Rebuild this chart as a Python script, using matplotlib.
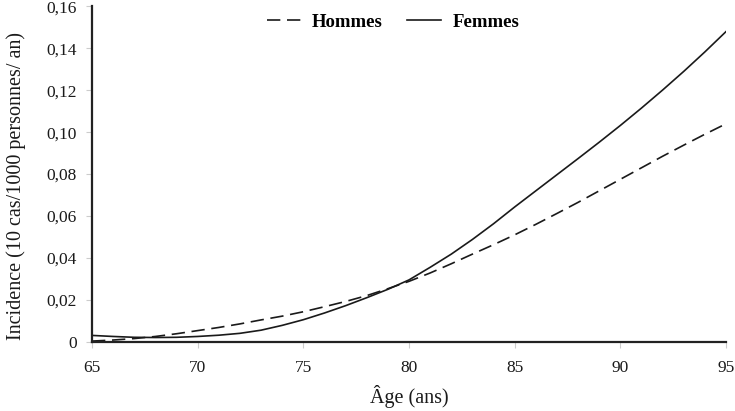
import numpy as np
import matplotlib.pyplot as plt
from matplotlib.ticker import FuncFormatter

# Values (one per year of age)
ages = list(range(65, 96))
hommes = [0.0003, 0.0008, 0.0015, 0.0025, 0.0038, 0.0053, 0.0068, 0.0085,
          0.0104, 0.0122, 0.0143, 0.0167, 0.0192, 0.0220, 0.0253, 0.0288,
          0.0328, 0.0372, 0.0418, 0.0463, 0.0510, 0.0560, 0.0612, 0.0665,
          0.0720, 0.0775, 0.0830, 0.0885, 0.0938, 0.0990, 0.1040]
femmes = [0.0030, 0.0025, 0.0021, 0.0020, 0.0021, 0.0025, 0.0031, 0.0040,
          0.0055, 0.0078, 0.0105, 0.0137, 0.0172, 0.0210, 0.0250, 0.0295,
          0.0355, 0.0418, 0.0488, 0.0563, 0.0643, 0.0720, 0.0797, 0.0874,
          0.0952, 0.1032, 0.1115, 0.1201, 0.1290, 0.1383, 0.1480]

x_ticks = [65, 70, 75, 80, 85, 90, 95]
y_ticks = [0, 0.02, 0.04, 0.06, 0.08, 0.10, 0.12, 0.14, 0.16]

plt.rcParams['font.family'] = ['Liberation Serif', 'DejaVu Serif']

fig = plt.figure(figsize=(7.35, 4.11), dpi=100)
ax = fig.add_axes([0.1252, 0.1686, 0.8626, 0.8158])

ax.plot(ages, hommes, color='#1a1a1a', lw=1.2, dashes=(8, 4), label='Hommes')
ax.plot(ages, femmes, color='#1a1a1a', lw=1.2, label='Femmes')

ax.set_xlim(65, 95)
ax.set_ylim(0, 0.16)
ax.set_xticks(x_ticks)
ax.set_yticks(y_ticks)

def comma_fmt(v, pos):
    if abs(v) < 1e-9:
        return '0'
    return f'{v:.2f}'.replace('.', ',')

ax.yaxis.set_major_formatter(FuncFormatter(comma_fmt))

for side in ['top', 'right']:
    ax.spines[side].set_visible(False)
for side in ['left', 'bottom']:
    ax.spines[side].set_linewidth(1.6)
    ax.spines[side].set_color('#222222')

ax.tick_params(axis='both', direction='out', length=4, width=0.8,
               color='#cccccc', labelsize=12.5, labelcolor='#1a1a1a')
ax.tick_params(axis='x', pad=9)
ax.tick_params(axis='y', pad=7)

ax.set_xlabel('Âge (ans)', fontsize=14.5, color='#1a1a1a', labelpad=7)
ax.set_ylabel('Incidence (10 cas/1000 personnes/ an)', fontsize=14.5,
              color='#1a1a1a')
ax.yaxis.set_label_coords(-0.104, 0.465)

leg = ax.legend(loc='center', bbox_to_anchor=(0.535, 0.946),
                bbox_transform=fig.transFigure, ncol=2, frameon=False,
                handlelength=1.8, handletextpad=0.6, columnspacing=1.3,
                prop={'weight': 'bold', 'size': 13.5})

fig.savefig('out.png', dpi=100)
